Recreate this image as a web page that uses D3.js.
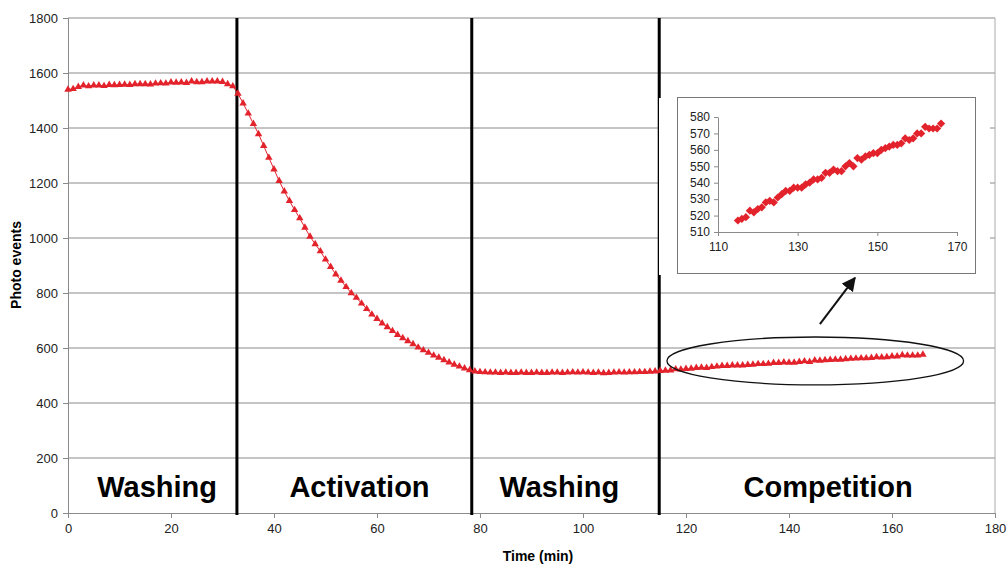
<!DOCTYPE html>
<html>
<head>
<meta charset="utf-8">
<script src="https://cdn.jsdelivr.net/npm/d3@7"></script>
<style>
  body { margin: 0; background: #fff; }
  svg { display: block; font-family: "Liberation Sans", Arial, sans-serif; }
</style>
</head>
<body>
<svg id="chart" width="1008" height="566"></svg>
<script>
// photo events per minute, one array per phase
var washing1 = [1540, 1542, 1550, 1555, 1552, 1555, 1555, 1553, 1557, 1556,
    1557, 1558, 1557, 1560, 1560, 1560, 1559, 1562, 1563, 1562,
    1566, 1565, 1566, 1564, 1570, 1567, 1567, 1570, 1570, 1570,
    1568, 1560, 1552];
var activation = [1525, 1490, 1453, 1415, 1378, 1335, 1292, 1250, 1208, 1170,
    1135, 1102, 1072, 1038, 1005, 978, 952, 922, 895, 868,
    845, 822, 800, 783, 762, 742, 722, 706, 690, 676,
    662, 648, 636, 625, 614, 602, 592, 583, 573, 565,
    556, 548, 540, 533, 526, 520];
var washing2 = [515, 513, 512, 511, 511, 510, 511, 510, 510, 511,
    510, 510, 511, 510, 510, 511, 511, 510, 511, 512,
    511, 512, 511, 510, 511, 509, 510, 511, 512, 511,
    512, 512, 513, 513, 514, 515];
var competition = [517, 518, 519, 523, 522, 524, 525, 528, 529, 528,
    531, 533, 535, 535, 537, 537, 537, 539, 540, 542,
    542, 543, 546, 546, 548, 547, 547, 550, 552, 550,
    555, 554, 556, 557, 558, 558, 560, 561, 562, 563,
    563, 564, 567, 566, 567, 570, 570, 574, 573, 573,
    573, 576];

var phaseStarts = [0, 33, 79, 115];
var phaseBounds = [32.8, 78.4, 114.8];
var phaseNames = ["Washing", "Activation", "Washing", "Competition"];
var phaseLabelTimes = [17.3, 56.6, 95.4, 147.6];

var xTicks = [0, 20, 40, 60, 80, 100, 120, 140, 160, 180];
var yTicks = [0, 200, 400, 600, 800, 1000, 1200, 1400, 1600, 1800];
var insetXTicks = [110, 130, 150, 170];
var insetYTicks = [510, 520, 530, 540, 550, 560, 570, 580];

var RED = "#e3232c";
var GRID = "#8a8a8a";

var all = [];
[washing1, activation, washing2, competition].forEach(function (arr, k) {
    arr.forEach(function (v, i) {
        all.push({t: phaseStarts[k] + i, v: v});
    });
});
var compData = competition.map(function (v, i) {
    return {t: phaseStarts[3] + i, v: v};
});

var svg = d3.select("#chart");

var x = d3.scaleLinear().domain([0, 180]).range([68, 995]);
var y = d3.scaleLinear().domain([0, 1800]).range([513, 18]);

// grid
svg.append("g")
    .selectAll("line")
    .data(yTicks.slice(1))
    .enter().append("line")
    .attr("x1", x(0)).attr("x2", x(180))
    .attr("y1", function (d) { return y(d); })
    .attr("y2", function (d) { return y(d); })
    .attr("stroke", GRID)
    .attr("stroke-width", 1);

svg.append("line")
    .attr("x1", x(180)).attr("x2", x(180))
    .attr("y1", y(0)).attr("y2", y(1800))
    .attr("stroke", "#aaa");

// axes
var xAxis = svg.append("g")
    .attr("transform", "translate(0," + y(0) + ")")
    .call(d3.axisBottom(x).tickValues(xTicks).tickFormat(d3.format("d")).tickSize(5).tickPadding(6));
var yAxis = svg.append("g")
    .attr("transform", "translate(" + x(0) + ",0)")
    .call(d3.axisLeft(y).tickValues(yTicks).tickFormat(d3.format("d")).tickSize(5).tickPadding(5));

[xAxis, yAxis].forEach(function (g) {
    g.select(".domain").attr("stroke", GRID);
    g.selectAll(".tick line").attr("stroke", GRID);
    g.selectAll(".tick text")
        .attr("fill", "#222")
        .style("font-size", "13px")
        .style("font-family", "Liberation Sans, Arial, sans-serif");
});

// phase separators
svg.append("g")
    .selectAll("line")
    .data(phaseBounds)
    .enter().append("line")
    .attr("x1", function (d) { return x(d); })
    .attr("x2", function (d) { return x(d); })
    .attr("y1", y(1800)).attr("y2", y(0) + 2)
    .attr("stroke", "#000")
    .attr("stroke-width", 3);

// phase names
svg.append("g")
    .selectAll("text")
    .data(phaseNames)
    .enter().append("text")
    .attr("x", function (d, i) { return x(phaseLabelTimes[i]); })
    .attr("y", 497)
    .attr("text-anchor", "middle")
    .style("font-size", "29px")
    .style("font-weight", "bold")
    .text(function (d) { return d; });

// series
svg.append("path")
    .datum(all)
    .attr("fill", "none")
    .attr("stroke", RED)
    .attr("stroke-width", 1)
    .attr("d", d3.line()
        .x(function (d) { return x(d.t); })
        .y(function (d) { return y(d.v); }));

svg.append("g")
    .selectAll("path")
    .data(all)
    .enter().append("path")
    .attr("transform", function (d) { return "translate(" + x(d.t) + "," + y(d.v) + ")"; })
    .attr("d", d3.symbol().type(d3.symbolTriangle).size(24))
    .attr("fill", RED);

// annotation: ellipse and arrow
svg.append("ellipse")
    .attr("cx", x(145.1)).attr("cy", y(553))
    .attr("rx", x(145.1 + 28.8) - x(145.1))
    .attr("ry", y(553) - y(553 + 87))
    .attr("fill", "none")
    .attr("stroke", "#111")
    .attr("stroke-width", 1.3);

svg.append("defs").append("marker")
    .attr("id", "head")
    .attr("viewBox", "0 0 10 10")
    .attr("refX", 9).attr("refY", 5)
    .attr("markerWidth", 7).attr("markerHeight", 7)
    .attr("orient", "auto")
    .append("path")
    .attr("d", "M0,0L10,5L0,10z")
    .attr("fill", "#111");

svg.append("line")
    .attr("x1", x(146.0)).attr("y1", y(687))
    .attr("x2", x(152.8)).attr("y2", y(855))
    .attr("stroke", "#111")
    .attr("stroke-width", 2)
    .attr("marker-end", "url(#head)");

// inset
var inset = svg.append("g");
inset.append("rect")
    .attr("x", 659).attr("y", 98)
    .attr("width", 331).attr("height", 177)
    .attr("fill", "#fff");
inset.append("rect")
    .attr("x", 677.5).attr("y", 97.5)
    .attr("width", 298).attr("height", 176)
    .attr("fill", "#fff")
    .attr("stroke", "#777");

var ix = d3.scaleLinear().domain([110, 170]).range([718, 957]);
var iy = d3.scaleLinear().domain([510, 580]).range([232, 117]);

var ixAxis = inset.append("g")
    .attr("transform", "translate(0," + iy(510) + ")")
    .call(d3.axisBottom(ix).tickValues(insetXTicks).tickSize(4).tickPadding(6).tickSizeOuter(0));
var iyAxis = inset.append("g")
    .attr("transform", "translate(" + ix(110) + ",0)")
    .call(d3.axisLeft(iy).tickValues(insetYTicks).tickSize(4).tickPadding(4).tickSizeOuter(0));

[ixAxis, iyAxis].forEach(function (g) {
    g.select(".domain").attr("stroke", GRID);
    g.selectAll(".tick line").attr("stroke", GRID);
    g.selectAll(".tick text")
        .attr("fill", "#222")
        .style("font-size", "12px")
        .style("font-family", "Liberation Sans, Arial, sans-serif");
});

inset.append("g")
    .selectAll("path")
    .data(compData)
    .enter().append("path")
    .attr("transform", function (d) { return "translate(" + ix(d.t) + "," + iy(d.v) + ") rotate(45)"; })
    .attr("d", d3.symbol().type(d3.symbolSquare).size(34))
    .attr("fill", RED);

// axis titles
svg.append("text")
    .attr("transform", "translate(21,265) rotate(-90)")
    .attr("text-anchor", "middle")
    .style("font-size", "14px")
    .style("font-weight", "bold")
    .text("Photo events");

svg.append("text")
    .attr("x", 538).attr("y", 561)
    .attr("text-anchor", "middle")
    .style("font-size", "14px")
    .style("font-weight", "bold")
    .text("Time (min)");
</script>
</body>
</html>
